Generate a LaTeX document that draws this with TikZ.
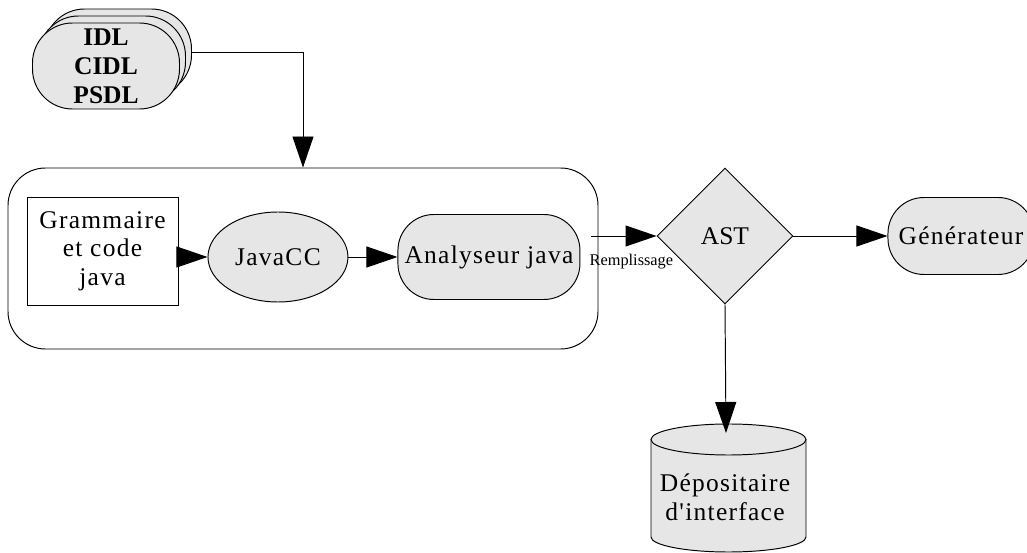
\documentclass[tikz,border=0pt]{standalone}
\usepackage{fontspec}
\setmainfont{Liberation Serif}
\newfontfamily\spaced[LetterSpace=5]{Liberation Serif}
\usetikzlibrary{positioning}
\usetikzlibrary{shapes}
\usetikzlibrary{arrows.meta}
\definecolor{shade}{RGB}{230,230,230}

\begin{document}
\begin{tikzpicture}[line width=0.55pt,
            file/.style={draw, fill=white, rectangle, inner sep=0pt, align=center,
            font=\fontsize{14.5pt}{16.3pt}\selectfont\spaced},
            tool/.style={draw, fill=shade, rounded corners=0.72cm, inner sep=0pt, align=center,
            font=\fontsize{14.5pt}{16.3pt}\selectfont\spaced},
            stack/.style={tool, rounded corners=0.8cm, minimum width=2.94cm, minimum height=1.72cm,
            font=\fontsize{14.5pt}{16.5pt}\selectfont\bfseries},
            flow/.style={-{Triangle[length=0.62cm, width=0.42cm]}}]
        \useasboundingbox (0,0) rectangle (20.54,-11.06);

        \node[stack] (stack3) at (2.36,-1.04) {};
        \node[stack] (stack2) at (2.24,-1.18) {};
        \node[stack] (stack1) at (2.12,-1.32) {IDL\\CIDL\\PSDL};
        \node[draw, rounded corners=0.75cm, minimum width=11.8cm, minimum height=3.62cm]
            (frame) at (6.06,-5.17) {};
        \node[file, minimum width=3.02cm, minimum height=2.16cm] (gram) at (2.05,-5.02)
            {Grammaire\\et code\\java};
        \node[tool, ellipse, minimum width=2.8cm, minimum height=1.8cm] (javacc)
            [yshift=-0.12cm, right=0.58cm of gram] {JavaCC};
        \node[tool, minimum width=3.64cm, minimum height=1.7cm] (ana)
            [right=0.98cm of javacc] {Analyseur java};
        \node[tool, diamond, rounded corners=0pt, minimum width=2.72cm, minimum height=2.72cm,
            font=\fontsize{14.5pt}{16pt}\selectfont] (ast) at (14.5,-4.72) {AST};
        \node[tool, minimum width=2.92cm, minimum height=1.54cm] (gen)
            [right=1.88cm of ast] {Générateur};

        % depot cylinder, bottom runs off the page
        \filldraw[fill=shade] (13.02,-8.79) -- (13.02,-10.74)
            arc[start angle=180, end angle=360, x radius=1.55cm, y radius=0.3cm] -- (16.12,-8.79);
        \filldraw[fill=shade] (14.57,-8.79) ellipse [x radius=1.55cm, y radius=0.31cm];
        \coordinate (depot-top) at (14.52,-8.66);
        \node[align=center, font=\fontsize{14.5pt}{16.3pt}\selectfont\spaced] (depot) at (14.5,-9.95)
            {Dépositaire\\d'interface};

        \draw[flow] (stack3.east) -| (frame.north);
        \draw[flow, shorten <=-0.3cm] (gram.east |- javacc.west) -- (javacc.west);
        \draw[flow] (javacc) -- (ana);
        \draw[flow, shorten <=0.22cm] (ana.east |- ast.west) --
            node[pos=0.67, below=0.36cm, inner sep=0pt, font=\fontsize{9.3pt}{11pt}\selectfont]
            (rempl) {Remplissage} (ast.west);
        \draw[flow] (ast) -- (gen);
        \draw[flow] (ast.south) -- (depot-top);
    \end{tikzpicture}
\end{document}
